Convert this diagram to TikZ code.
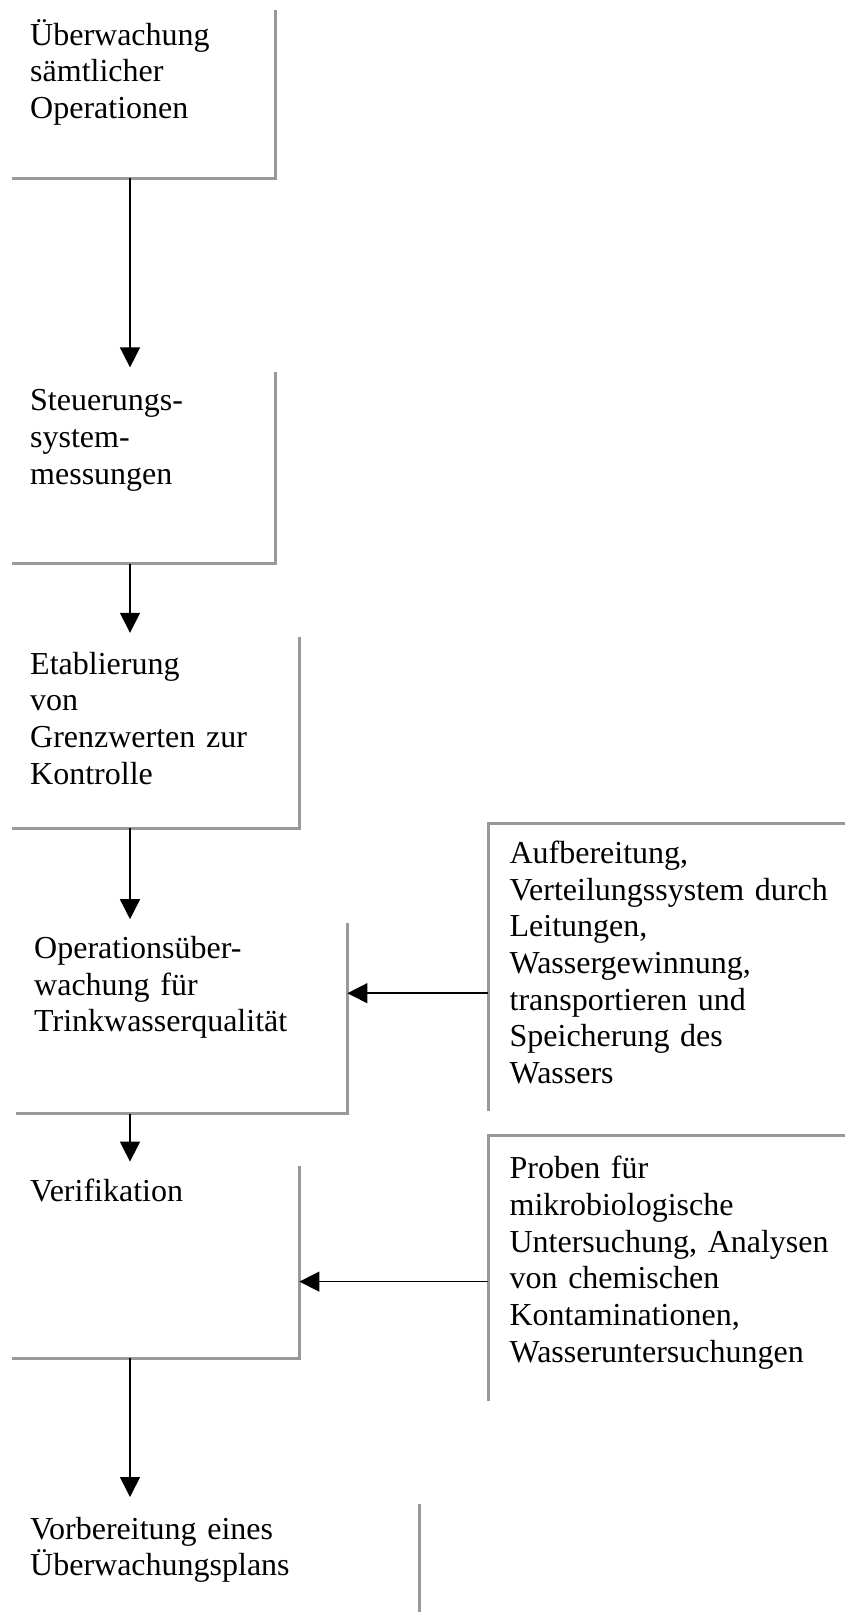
\documentclass[tikz,border=0pt]{standalone}
\usepackage{fontspec}
\setmainfont{Liberation Serif}
\usetikzlibrary{positioning, arrows.meta}
\tikzstyle{stage} = [rectangle, anchor=north west, inner xsep=18pt, inner ysep=0pt, text height=36pt, align=left, font=\fontsize{32}{36.7}\selectfont]
\tikzstyle{source} = [stage, inner xsep=21pt, text width=340pt]
\tikzstyle{rim} = [line width=3pt, draw=black!40]
\tikzstyle{arrow} = [line width=1.5pt, -{Triangle[length=20pt, width=20pt]}]

\begin{document}
\begin{tikzpicture}[x=1pt, y=-1pt]
        \useasboundingbox (0,0) rectangle (844,1612);

        \node (ueberwachung) [stage, text width=227pt, text height=35pt, text depth=133pt] at (12,10) {Überwachung\\sämtlicher\\Operationen};
        \node (steuerung) [stage, below=194pt of ueberwachung.south west, anchor=north west, text width=227pt, text height=38pt, text depth=153pt] {Steuerungs-\\system-\\messungen};
        \node (grenzwerte) [stage, below=73pt of steuerung.south west, anchor=north west, text width=251pt, text height=37pt, text depth=154pt] {Etablierung\\von\\Grenzwerten zur\\Kontrolle};
        \node (operation) [stage, below=95pt of grenzwerte.south west, anchor=north west, xshift=4pt, text width=295pt, text height=35pt, text depth=155pt] {Operationsüber-\\wachung für\\Trinkwasserqualität};
        \node (verifikation) [stage, below=52pt of operation.south west, anchor=north west, xshift=-4pt, text width=251pt, text height=36pt, text depth=156pt] {Verifikation};
        \node (vorbereitung) [stage, below=146pt of verifikation.south west, anchor=north west, text width=371pt, text height=35pt, text depth=75pt] {Vorbereitung eines\\Überwachungsplans};
        \node (aufbereitung) [source, above right=100pt and 141pt of operation.north east, anchor=north west, text height=40pt, text depth=247pt] {Aufbereitung,\\Verteilungssystem durch\\Leitungen,\\Wassergewinnung,\\transportieren und\\Speicherung des\\Wassers};
        \node (proben) [source, above right=30pt and 189pt of verifikation.north east, anchor=north west, text height=43pt, text depth=222pt] {Proben für\\mikrobiologische\\Untersuchung, Analysen\\von chemischen\\Kontaminationen,\\Wasseruntersuchungen};

        \draw [rim] (ueberwachung.north east) -- (ueberwachung.south east) -- (ueberwachung.south west);
        \draw [rim] (steuerung.north east) -- (steuerung.south east) -- (steuerung.south west);
        \draw [rim] (grenzwerte.north east) -- (grenzwerte.south east) -- (grenzwerte.south west);
        \draw [rim] (operation.north east) -- (operation.south east) -- (operation.south west);
        \draw [rim] (verifikation.north east) -- (verifikation.south east) -- (verifikation.south west);
        \draw [rim] (vorbereitung.north east) -- (vorbereitung.south east);
        \draw [rim] (aufbereitung.north east) -- (aufbereitung.north west) -- (aufbereitung.south west);
        \draw [rim] (proben.north east) -- (proben.north west) -- (proben.south west);

        \draw [arrow] ([xshift=118pt]ueberwachung.south west) -- ([xshift=118pt, yshift=5pt]steuerung.north west);
        \draw [arrow] ([xshift=118pt]steuerung.south west) -- ([xshift=118pt, yshift=4pt]grenzwerte.north west);
        \draw [arrow] ([xshift=118pt]grenzwerte.south west) -- ([xshift=114pt, yshift=4pt]operation.north west);
        \draw [arrow] ([xshift=114pt]operation.south west) -- ([xshift=118pt, yshift=4pt]verifikation.north west);
        \draw [arrow] ([xshift=118pt]verifikation.south west) -- ([xshift=118pt, yshift=7pt]vorbereitung.north west);
        \draw [arrow] ([yshift=-170pt]aufbereitung.north west) -- ([yshift=-70pt]operation.north east);
        \draw [arrow] ([yshift=-146pt]proben.north west) -- ([yshift=-116pt]verifikation.north east);

\end{tikzpicture}
\end{document}
